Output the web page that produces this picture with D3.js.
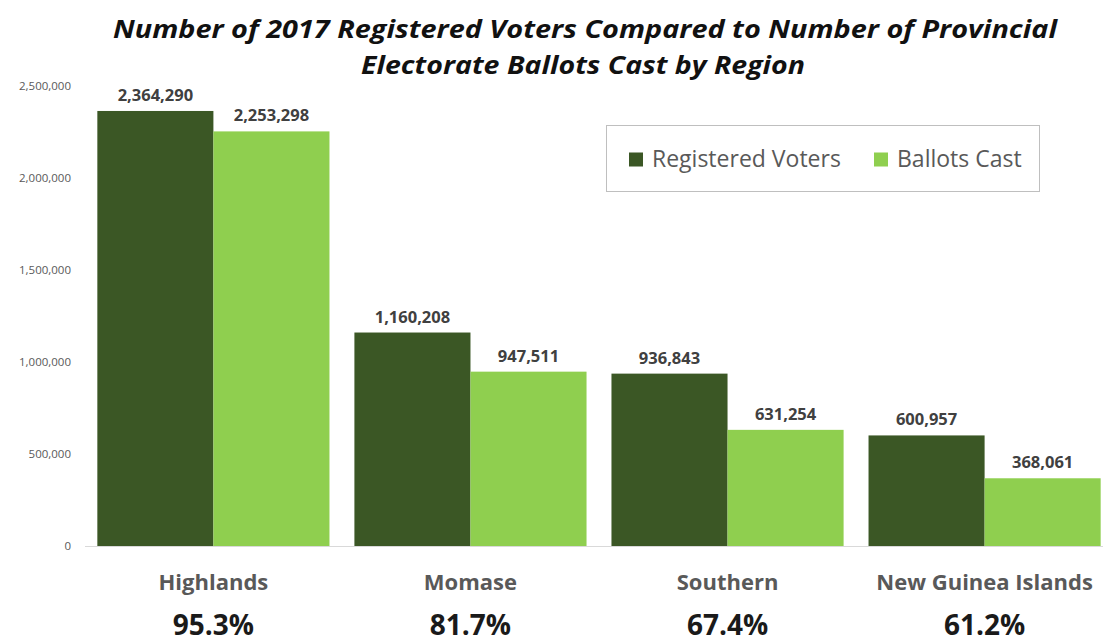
<!DOCTYPE html>
<html>
<head>
<meta charset="utf-8">
<script src="https://cdn.jsdelivr.net/npm/d3@7"></script>
<style>
  html, body { margin: 0; padding: 0; background: #fff; }
  svg { display: block; font-family: "Open Sans", Lato, sans-serif; }
</style>
</head>
<body>
<svg id="chart" width="1103" height="643"></svg>
<script>
// Regions, voter counts and turnout shares
const regions = ["Highlands", "Momase", "Southern", "New Guinea Islands"];
const registeredVoters = [2364290, 1160208, 936843, 600957];
const ballotsCast = [2253298, 947511, 631254, 368061];
const turnoutLabels = ["95.3%", "81.7%", "67.4%", "61.2%"];
const seriesNames = ["Registered Voters", "Ballots Cast"];
const yTicks = [0, 500000, 1000000, 1500000, 2000000, 2500000];

const colors = ["#3b5725", "#8fcf4f"];
const svg = d3.select("#chart");

const x0 = d3.scaleBand().domain(regions).range([85, 1113])
  .paddingInner(0.097).paddingOuter(0.048);
const x1 = d3.scaleBand().domain(seriesNames).range([0, x0.bandwidth()]);
const y = d3.scaleLinear().domain([0, 2500000]).range([546, 86]);

// Title
const title = svg.append("text")
  .attr("text-anchor", "middle")
  .attr("font-weight", "bold").attr("font-style", "italic")
  .attr("font-size", 25).attr("fill", "#111");
title.append("tspan").attr("x", 585).attr("y", 38)
  .attr("textLength", 944).attr("lengthAdjust", "spacingAndGlyphs")
  .text("Number of 2017 Registered Voters Compared to Number of Provincial");
title.append("tspan").attr("x", 583).attr("y", 74)
  .attr("textLength", 444).attr("lengthAdjust", "spacingAndGlyphs")
  .text("Electorate Ballots Cast by Region");

// Y axis labels
const yAxis = svg.append("g").attr("transform", "translate(71,0)")
  .call(d3.axisLeft(y).tickValues(yTicks).tickFormat(d3.format(",")).tickSize(0).tickPadding(0));
yAxis.select(".domain").remove();
yAxis.selectAll("text").attr("font-size", 11.5).attr("fill", "#595959")
  .attr("font-family", "'Open Sans', sans-serif");

// Baseline
svg.append("line").attr("x1", 85).attr("x2", 1103)
  .attr("y1", y(0) + 0.5).attr("y2", y(0) + 0.5)
  .attr("stroke", "#d9d9d9").attr("stroke-width", 1);

// Bars and value labels
const rows = regions.map((r, i) => ({
  region: r,
  values: [
    { key: seriesNames[0], value: registeredVoters[i] },
    { key: seriesNames[1], value: ballotsCast[i] }
  ]
}));

const groups = svg.append("g").selectAll("g").data(rows).join("g")
  .attr("transform", d => `translate(${x0(d.region)},0)`);

groups.selectAll("rect").data(d => d.values).join("rect")
  .attr("x", d => x1(d.key))
  .attr("y", d => y(d.value))
  .attr("width", x1.bandwidth())
  .attr("height", d => y(0) - y(d.value))
  .attr("fill", (d, i) => colors[i]);

groups.selectAll("text.val").data(d => d.values).join("text")
  .attr("class", "val")
  .attr("x", d => x1(d.key) + x1.bandwidth() / 2)
  .attr("y", d => y(d.value) - 10)
  .attr("text-anchor", "middle")
  .attr("font-size", 16.5).attr("font-weight", "bold").attr("fill", "#404040")
  .text(d => d3.format(",")(d.value));

// Category labels and turnout percentages
regions.forEach((r, i) => {
  const cx = x0(r) + x0.bandwidth() / 2;
  svg.append("text").attr("x", cx).attr("y", 590)
    .attr("text-anchor", "middle").attr("font-size", 22)
    .attr("font-weight", "bold").attr("fill", "#595959").text(r);
  svg.append("text").attr("x", cx).attr("y", 635)
    .attr("text-anchor", "middle").attr("font-size", 28)
    .attr("font-weight", "bold").attr("fill", "#1a1a1a").text(turnoutLabels[i]);
});

// Legend
const legend = svg.append("g");
legend.append("rect").attr("x", 606.5).attr("y", 125.5).attr("width", 433).attr("height", 66)
  .attr("fill", "#fff").attr("stroke", "#bfbfbf");
const legendX = [629, 874];
seriesNames.forEach((s, i) => {
  legend.append("rect").attr("x", legendX[i]).attr("y", 152.5).attr("width", 14).attr("height", 14)
    .attr("fill", colors[i]);
  legend.append("text").attr("x", legendX[i] + 23).attr("y", 167)
    .attr("font-size", 23).attr("fill", "#595959").text(s);
});
</script>
</body>
</html>
